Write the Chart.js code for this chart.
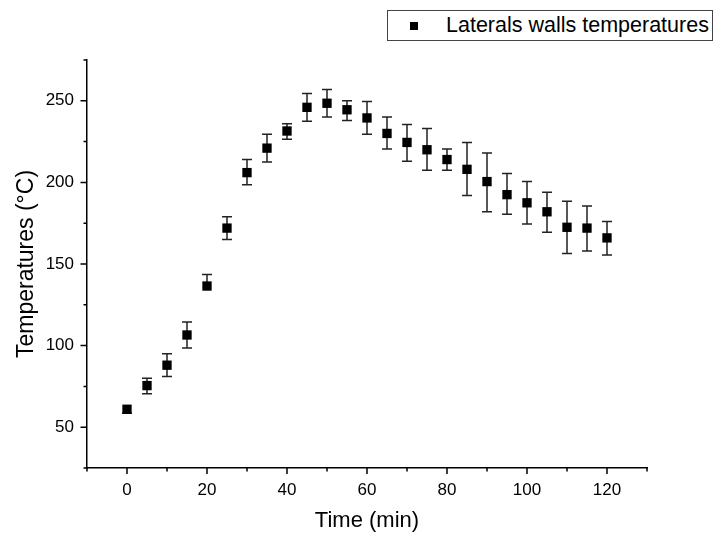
<!DOCTYPE html>
<html>
<head>
<meta charset="utf-8">
<script src="https://cdn.jsdelivr.net/npm/chart.js@4.4.1/dist/chart.umd.min.js"></script>
<style>
    body { margin: 0; background: #fff; }
    #wrap { position: relative; width: 716px; height: 536px; }
    #legend {
        position: absolute; left: 387px; top: 10px; width: 326px; height: 31px;
        box-sizing: border-box; border: 1.5px solid #444; background: #fff;
        font-family: "Liberation Sans", Arial, sans-serif; font-size: 21.5px; color: #000;
        display: flex; align-items: center;
    }
    #legend .mark { width: 8px; height: 8px; background: #000; margin-left: 22px; margin-right: 28px; }
</style>
</head>
<body>
<div id="wrap">
    <canvas id="chart" width="716" height="536"></canvas>
    <div id="legend"></div>
</div>
<script>
// Time (min)
const times = [0, 5, 10, 15, 20, 25, 30, 35, 40, 45, 50, 55, 60, 65, 70, 75, 80, 85, 90, 95, 100, 105, 110, 115, 120];
// Mean temperature (°C)
const temps = [61, 75.5, 88, 106.5, 136.5, 172, 206, 221, 231.5, 246, 248.5, 244.5, 239.5, 230, 224.5, 220, 214, 208, 200.5, 192.5, 187.5, 182, 172.5, 172, 166];
// Error bar ends
const upper = [61, 80, 95, 114.5, 143.5, 179, 214, 229.5, 236, 254.5, 257, 250, 249.5, 240, 235.5, 233, 220.5, 224.5, 218, 205.5, 200.5, 194, 188.5, 185.5, 176];
const lower = [58.5, 70.5, 81, 98.5, 136.5, 165, 198.5, 212.5, 226.5, 237.5, 240, 238, 229.5, 220.5, 213, 207.5, 207.5, 192, 182, 180.5, 174.5, 169.5, 156.5, 158, 155.5];

const xLabels = [0, 20, 40, 60, 80, 100, 120];
const yLabels = [50, 100, 150, 200, 250];

const seriesName = "Laterals walls temperatures";
const fontFamily = "'Liberation Sans', Arial, sans-serif";

// error bars drawn under the markers
const errorBars = {
    id: "errorBars",
    beforeDatasetsDraw(chart) {
        const ctx = chart.ctx;
        const xs = chart.scales.x;
        const ys = chart.scales.y;
        ctx.save();
        ctx.strokeStyle = "#222";
        ctx.lineWidth = 1.5;
        times.forEach((t, i) => {
            const x = xs.getPixelForValue(t);
            const yTop = ys.getPixelForValue(upper[i]);
            const yBot = ys.getPixelForValue(lower[i]);
            ctx.beginPath();
            ctx.moveTo(x, yTop);
            ctx.lineTo(x, yBot);
            if (upper[i] > temps[i]) {
                ctx.moveTo(x - 5, yTop);
                ctx.lineTo(x + 5, yTop);
            }
            if (lower[i] < temps[i]) {
                ctx.moveTo(x - 5, yBot);
                ctx.lineTo(x + 5, yBot);
            }
            ctx.stroke();
        });
        ctx.restore();
    }
};

// long ticks at labelled values, short ticks in between
const axisTicks = {
    id: "axisTicks",
    afterDraw(chart) {
        const ctx = chart.ctx;
        const xs = chart.scales.x;
        const ys = chart.scales.y;
        const area = chart.chartArea;
        ctx.save();
        ctx.strokeStyle = "#000";
        ctx.lineWidth = 1.5;
        ctx.beginPath();
        xs.ticks.forEach(t => {
            const len = xLabels.includes(t.value) ? 6 : 3.5;
            const x = xs.getPixelForValue(t.value);
            ctx.moveTo(x, area.bottom);
            ctx.lineTo(x, area.bottom + len);
        });
        ys.ticks.forEach(t => {
            const len = yLabels.includes(t.value) ? 6.5 : 3.5;
            const y = ys.getPixelForValue(t.value);
            ctx.moveTo(area.left, y);
            ctx.lineTo(area.left - len, y);
        });
        ctx.stroke();
        ctx.restore();
    }
};

const chart = new Chart(document.getElementById("chart"), {
    type: "scatter",
    data: {
        datasets: [{
            label: seriesName,
            data: times.map((t, i) => ({ x: t, y: temps[i] })),
            pointStyle: "rect",
            pointRadius: 6.6,
            pointHoverRadius: 6.6,
            backgroundColor: "#000",
            borderColor: "#000",
            borderWidth: 0
        }]
    },
    options: {
        responsive: false,
        animation: false,
        devicePixelRatio: 1,
        layout: { padding: { top: 60, right: 69, left: 0, bottom: 0 } },
        plugins: {
            legend: { display: false },
            tooltip: { enabled: false }
        },
        scales: {
            x: {
                type: "linear",
                min: -10,
                max: 130,
                afterFit: scale => { scale.height = 68; },
                border: { display: true, color: "#000", width: 1.5 },
                grid: { drawOnChartArea: false, drawTicks: false },
                ticks: {
                    stepSize: 10,
                    autoSkip: false,
                    maxRotation: 0,
                    padding: 12,
                    color: "#000",
                    font: { family: fontFamily, size: 17 },
                    callback: v => xLabels.includes(v) ? String(v) : ""
                },
                title: {
                    display: true,
                    text: "Time (min)",
                    color: "#000",
                    font: { family: fontFamily, size: 22 },
                    padding: { top: 0, bottom: 2 }
                }
            },
            y: {
                type: "linear",
                min: 25,
                max: 275,
                afterFit: scale => { scale.width = 87; },
                border: { display: true, color: "#000", width: 1.5 },
                grid: { drawOnChartArea: false, drawTicks: false },
                ticks: {
                    stepSize: 25,
                    autoSkip: false,
                    padding: 13,
                    color: "#000",
                    font: { family: fontFamily, size: 17 },
                    callback: v => yLabels.includes(v) ? String(v) : ""
                },
                title: {
                    display: true,
                    text: "Temperatures (°C)",
                    color: "#000",
                    font: { family: fontFamily, size: 23 },
                    padding: { top: 13, bottom: 0 }
                }
            }
        }
    },
    plugins: [errorBars, axisTicks]
});

// legend box at the top right
const legend = document.getElementById("legend");
legend.innerHTML = `<span class="mark"></span><span>${chart.data.datasets[0].label}</span>`;
</script>
</body>
</html>
